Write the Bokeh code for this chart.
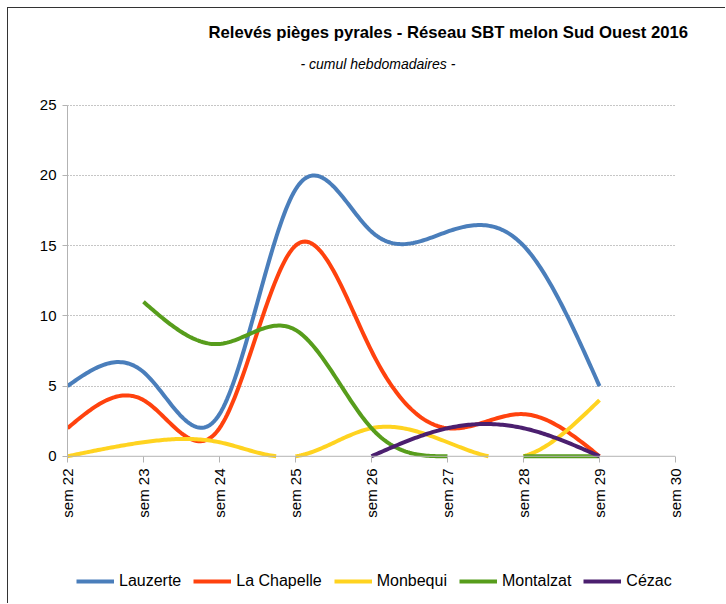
import numpy as np
from bokeh.plotting import figure
from bokeh.layouts import column
from bokeh.models import Range1d, FixedTicker, Legend, LegendItem, Span, Title, Label
from bokeh.embed import file_html
from bokeh.resources import INLINE

# ---------------- data ----------------
categories = ["sem 22", "sem 23", "sem 24", "sem 25", "sem 26",
              "sem 27", "sem 28", "sem 29", "sem 30"]
lauzerte = [5, 6, 3, 19, 16, 16, 15, 5, None]
la_chapelle = [2, 4, 2, 15, 7.5, 2, 3, 0, None]
monbequi = [0, 1, 1, 0, 2, 1, 0, 4, None]
montalzat = [None, 11, 8, 9, 2, 0, 0, 0, None]
cezac = [None, None, None, None, 0, 2, 2, 0, None]

series_names = ["Lauzerte", "La Chapelle", "Monbequi", "Montalzat", "Cézac"]
series_values = [lauzerte, la_chapelle, monbequi, montalzat, cezac]
series_colors = ["#4a7ebb", "#ff420e", "#ffd320", "#579d1c", "#4b1f6f"]

title_text = "Relevés pièges pyrales - Réseau SBT melon Sud Ouest 2016"
subtitle_text = "- cumul hebdomadaires -"
y_ticks = [0, 5, 10, 15, 20, 25]

FONT = "Liberation Sans"
Y_MIN, Y_TOP = -0.3, 28.9
BORDER = "1px solid #333333"


# -------------- smoothing: natural cubic spline through the points ----------
def natural_second_derivs(t, v):
    n = len(t)
    if n < 3:
        return np.zeros(n)
    h = np.diff(t)
    A = np.zeros((n, n))
    b = np.zeros(n)
    A[0, 0] = 1.0
    A[-1, -1] = 1.0
    for i in range(1, n - 1):
        A[i, i - 1] = h[i - 1]
        A[i, i] = 2 * (h[i - 1] + h[i])
        A[i, i + 1] = h[i]
        b[i] = 6 * ((v[i + 1] - v[i]) / h[i] - (v[i] - v[i - 1]) / h[i - 1])
    return np.linalg.solve(A, b)


def spline_eval(t, v, M, i, s):
    h = t[i + 1] - t[i]
    a = (t[i + 1] - s) / h
    bb = (s - t[i]) / h
    return a * v[i] + bb * v[i + 1] + ((a ** 3 - a) * M[i] + (bb ** 3 - bb) * M[i + 1]) * h * h / 6


def smooth(xs, ys, per_seg=40):
    xs = np.asarray(xs, float)
    ys = np.asarray(ys, float)
    M = natural_second_derivs(xs, ys)
    ox, oy = [float(xs[0])], [float(ys[0])]
    for i in range(len(xs) - 1):
        for s in np.linspace(xs[i], xs[i + 1], per_seg + 1)[1:]:
            ox.append(float(s))
            oy.append(float(spline_eval(xs, ys, M, i, s)))
    return ox, oy


def clip_below_zero(px, py):
    outx, outy = [], []
    for k in range(len(px)):
        if k > 0:
            x0, y0, x1, y1 = px[k - 1], py[k - 1], px[k], py[k]
            if (y0 >= 0) != (y1 >= 0):
                f = y0 / (y0 - y1)
                outx.append(x0 + f * (x1 - x0))
                outy.append(0.0)
                if y1 < 0:
                    outx.append(float("nan"))
                    outy.append(float("nan"))
        if py[k] >= 0:
            outx.append(px[k])
            outy.append(py[k])
    return outx, outy


def series_path(values):
    allx, ally = [], []
    run_x, run_y = [], []
    for i, v in enumerate(values + [None]):
        if v is None:
            if len(run_x) >= 2:
                sx, sy = smooth(run_x, run_y)
                cx, cy = clip_below_zero(sx, sy)
                if allx:
                    allx.append(float("nan"))
                    ally.append(float("nan"))
                allx += cx
                ally += cy
            run_x, run_y = [], []
        else:
            run_x.append(i)
            run_y.append(v)
    return allx, ally


# ---------------- main figure ----------------
p = figure(width=718, height=548, output_backend="svg", toolbar_location=None,
           x_range=Range1d(0, len(categories) - 1), y_range=Range1d(Y_MIN, Y_TOP),
           min_border_left=59, min_border_right=51, min_border_top=42,
           min_border_bottom=96,
           styles={"border-left": BORDER, "border-top": BORDER})
p.outline_line_color = None
p.background_fill_color = "white"
p.border_fill_color = "white"

# axes
p.xaxis.ticker = FixedTicker(ticks=list(range(len(categories))))
p.xaxis.major_label_overrides = {i: c for i, c in enumerate(categories)}
p.xaxis.major_label_orientation = np.pi / 2
p.yaxis.ticker = FixedTicker(ticks=y_ticks)
p.yaxis.bounds = (y_ticks[0], y_ticks[-1])
for ax in (p.xaxis, p.yaxis):
    ax.axis_line_color = "#b3b3b3"
    ax.major_tick_line_color = "#b3b3b3"
    ax.minor_tick_line_color = None
    ax.major_tick_in = 0
    ax.major_label_text_font = FONT
    ax.major_label_text_font_size = "15px"
    ax.major_label_text_color = "black"
p.xaxis.axis_line_color = None
p.xaxis.major_tick_in = 4
p.xaxis.major_tick_out = 2
p.xaxis.major_label_standoff = 6
p.yaxis.major_tick_out = 5
p.yaxis.major_label_standoff = 6
p.add_layout(Span(location=0, dimension="width", line_color="#b3b3b3", line_width=1))

p.xgrid.grid_line_color = None
p.ygrid.ticker = FixedTicker(ticks=y_ticks[1:])
p.ygrid.grid_line_color = "#8c8c8c"
p.ygrid.grid_line_dash = "1 2"
p.ygrid.grid_line_width = 1

# title (side panel) and subtitle (inside the frame, above the top gridline)
p.add_layout(Title(text=title_text, align="left", offset=141, standoff=18,
                   text_font=FONT, text_font_size="16.7px", text_font_style="bold",
                   text_color="black"), "above")
p.add_layout(Label(x=233, y=397, x_units="screen", y_units="screen", text=subtitle_text,
                   text_font=FONT, text_font_size="14px", text_font_style="italic",
                   text_align="left", text_baseline="middle", text_color="black"))

# lines
for name, vals, col in zip(series_names, series_values, series_colors):
    lx, ly = series_path(vals)
    p.line(lx, ly, line_width=4, line_color=col, line_join="round")

# ---------------- legend strip ----------------
lg = figure(width=718, height=48, output_backend="svg", toolbar_location=None,
            x_range=Range1d(0, 1), y_range=Range1d(0, 1),
            x_axis_type=None, y_axis_type=None,
            min_border_left=0, min_border_right=0, min_border_top=0, min_border_bottom=0,
            styles={"border-left": BORDER})
lg.outline_line_color = None
lg.xgrid.grid_line_color = None
lg.ygrid.grid_line_color = None
items = []
for name, col in zip(series_names, series_colors):
    r = lg.line(x=[float("nan")], y=[float("nan")], line_width=4, line_color=col)
    items.append(LegendItem(label=name, renderers=[r]))

legend = Legend(items=items, orientation="horizontal", location=(9, 13))
legend.border_line_color = None
legend.background_fill_alpha = 0
legend.label_text_font = FONT
legend.label_text_font_size = "16px"
legend.label_text_color = "black"
legend.glyph_width = 38
legend.glyph_height = 16
legend.label_standoff = 5
legend.spacing = 12
legend.padding = 0
legend.margin = 0
lg.add_layout(legend, "center")

layout = column(p, lg, spacing=0, styles={"margin-left": "7px", "margin-top": "7px"})
open("out.html", "w").write(file_html(layout, INLINE))
